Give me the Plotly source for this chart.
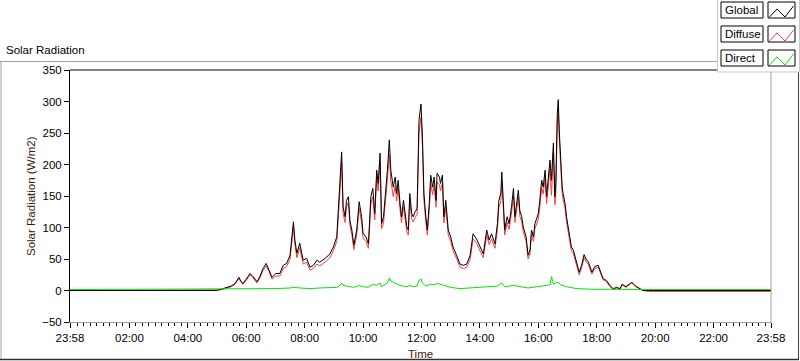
import plotly.graph_objects as go

PREV_DAY = "2021-06-20"
DAY = "2021-06-21"

# ---- data ----
global_times = [
    "23:58", "04:58", "05:08", "05:20", "05:29", "05:37", "05:45", "05:49", "05:53", "06:00",
    "06:08", "06:14", "06:22", "06:28", "06:34", "06:41", "06:47", "06:53", "07:01", "07:09",
    "07:16", "07:23", "07:30", "07:37", "07:40", "07:44", "07:50", "07:57", "08:04", "08:11",
    "08:18", "08:25", "08:31", "08:42", "08:52", "08:59", "09:06", "09:11", "09:16", "09:19",
    "09:23", "09:26", "09:30", "09:33", "09:37", "09:41", "09:47", "09:52", "09:57", "10:00",
    "10:06", "10:11", "10:16", "10:20", "10:24", "10:28", "10:31", "10:35", "10:38", "10:42",
    "10:47", "10:50", "10:54", "10:57", "11:02", "11:06", "11:09", "11:12", "11:16", "11:19",
    "11:23", "11:26", "11:30", "11:33", "11:36", "11:40", "11:43", "11:47", "11:51", "11:55",
    "11:59", "12:02", "12:05", "12:09", "12:12", "12:16", "12:19", "12:23", "12:26", "12:30",
    "12:32", "12:37", "12:39", "12:43", "12:46", "12:50", "12:55", "13:00", "13:05", "13:12",
    "13:19", "13:26", "13:33", "13:40", "13:46", "13:53", "14:00", "14:07", "14:14", "14:19",
    "14:24", "14:31", "14:36", "14:39", "14:43", "14:45", "14:48", "14:51", "14:56", "15:00",
    "15:05", "15:09", "15:12", "15:16", "15:19", "15:22", "15:26", "15:29", "15:35", "15:39",
    "15:43", "15:46", "15:50", "15:53", "15:57", "16:00", "16:03", "16:07", "16:10", "16:14",
    "16:17", "16:20", "16:24", "16:27", "16:31", "16:34", "16:36", "16:39", "16:41", "16:43",
    "16:46", "16:49", "16:51", "16:55", "16:58", "17:02", "17:05", "17:08", "17:12", "17:19",
    "17:24", "17:29", "17:34", "17:38", "17:43", "17:50", "17:56", "18:03", "18:08", "18:13",
    "18:20", "18:27", "18:34", "18:41", "18:48", "18:52", "19:00", "19:06", "19:12", "19:20",
    "19:29", "19:35", "19:47", "23:58",
]

global_wm2 = [
    0, 0, 2, 5, 7, 11, 21, 15, 11, 18,
    27, 22, 14, 22, 34, 43, 33, 21, 27, 27,
    40, 43, 56, 109, 80, 59, 75, 48, 51, 37,
    40, 48, 45, 51, 58, 69, 85, 149, 220, 133,
    117, 143, 149, 111, 96, 72, 96, 141, 117, 91,
    85, 74, 149, 162, 122, 191, 170, 218, 106, 117,
    159, 191, 239, 191, 164, 180, 154, 175, 138, 117,
    143, 127, 101, 96, 154, 122, 117, 125, 130, 271,
    296, 244, 154, 117, 96, 138, 183, 164, 180, 143,
    186, 180, 170, 183, 117, 143, 96, 85, 69, 56,
    42, 40, 42, 56, 90, 82, 69, 58, 96, 80,
    90, 74, 106, 143, 154, 188, 143, 96, 117, 106,
    133, 162, 117, 143, 159, 127, 117, 101, 85, 56,
    64, 96, 85, 106, 117, 122, 143, 175, 164, 191,
    149, 180, 207, 175, 234, 149, 170, 281, 303, 255,
    196, 164, 154, 138, 117, 96, 80, 69, 64, 42,
    29, 40, 57, 50, 45, 29, 38, 40, 30, 19,
    16, 8, 3, 5, 3, 10, 6, 9, 13, 7,
    3, 0, 0, 0,
]

diffuse_wm2 = [
    0, 0, 1, 4, 6, 10, 19, 14, 10, 16,
    25, 20, 12, 20, 31, 39, 30, 18, 23, 23,
    35, 38, 50, 101, 73, 52, 68, 42, 45, 32,
    35, 42, 39, 45, 52, 63, 78, 138, 204, 122,
    108, 133, 140, 103, 89, 65, 88, 130, 108, 83,
    78, 67, 137, 149, 112, 180, 158, 203, 98, 107,
    146, 176, 216, 174, 149, 166, 142, 163, 128, 108,
    133, 118, 93, 88, 143, 113, 109, 116, 121, 252,
    275, 229, 143, 108, 88, 127, 170, 152, 168, 132,
    172, 168, 158, 171, 107, 133, 88, 78, 63, 51,
    37, 35, 37, 50, 82, 75, 62, 52, 88, 73,
    82, 67, 97, 132, 141, 172, 133, 88, 108, 97,
    123, 150, 108, 133, 148, 118, 109, 93, 78, 50,
    58, 88, 78, 98, 108, 113, 132, 163, 153, 178,
    138, 168, 193, 151, 220, 136, 156, 265, 286, 241,
    185, 154, 145, 130, 109, 89, 74, 63, 59, 37,
    25, 36, 52, 46, 41, 26, 35, 37, 27, 17,
    14, 6, 2, 4, 2, 9, 5, 8, 12, 6,
    2, 0, -1.5, -1.5,
]

direct_times = [
    "23:58", "06:28", "06:41", "07:01", "07:30", "07:37", "07:50", "08:11", "08:31", "08:52",
    "09:06", "09:11", "09:16", "09:19", "09:30", "09:41", "09:52", "10:00", "10:11", "10:20",
    "10:28", "10:35", "10:38", "10:50", "10:54", "10:57", "11:02", "11:09", "11:16", "11:23",
    "11:30", "11:36", "11:43", "11:51", "11:55", "11:59", "12:02", "12:09", "12:19", "12:26",
    "12:32", "12:43", "12:50", "13:00", "13:19", "13:40", "13:53", "14:14", "14:36", "14:45",
    "14:51", "15:09", "15:22", "15:39", "15:57", "16:14", "16:24", "16:27", "16:31", "16:36",
    "16:41", "16:46", "16:58", "17:19", "17:50", "18:27", "19:35", "23:58",
]

direct_wm2 = [
    1.5, 2, 2.5, 3, 4, 5, 4, 3, 4, 4,
    5, 7, 12, 8, 6, 5, 8, 6, 5, 10,
    8, 12, 6, 12, 20, 15, 13, 10, 8, 7,
    6, 8, 6, 7, 16, 18, 12, 7, 10, 9,
    11, 9, 7, 5, 3, 4, 5, 5, 7, 12,
    6, 8, 6, 4, 6, 8, 9, 22, 10, 12,
    13, 9, 6, 3, 2, 2, 1.5, 1.5,
]

tick_labels = ["23:58", "02:00", "04:00", "06:00", "08:00", "10:00", "12:00",
               "14:00", "16:00", "18:00", "20:00", "22:00", "23:58"]

series_names = ["Global", "Diffuse", "Direct"]
series_colors = ["#000000", "#ff3c3c", "#00e600"]


def stamp(times):
    return [f"{PREV_DAY if i == 0 else DAY} {t}" for i, t in enumerate(times)]


tick_vals = stamp(tick_labels)

FONT = "Liberation Sans"
W, H = 800, 361
PL, PR, PT, PB = 70, 771, 70, 322


def fx(px):
    return (px - PL) / (PR - PL)


def fy(py):
    return (PB - py) / (PB - PT)


fig = go.Figure()
fig.add_trace(go.Scatter(x=stamp(global_times), y=diffuse_wm2, mode="lines",
                         name="Diffuse", line=dict(color=series_colors[1], width=1)))
fig.add_trace(go.Scatter(x=stamp(global_times), y=global_wm2, mode="lines",
                         name="Global", line=dict(color=series_colors[0], width=1)))
fig.add_trace(go.Scatter(x=stamp(direct_times), y=direct_wm2, mode="lines",
                         name="Direct", line=dict(color=series_colors[2], width=1)))

shapes = []


def line(x0, y0, x1, y1, color, width=1):
    shapes.append(dict(type="line", xref="paper", yref="paper",
                       x0=fx(x0), y0=fy(y0), x1=fx(x1), y1=fy(y1),
                       line=dict(color=color, width=width), layer="above"))


def rect(x0, y0, x1, y1, color, fill=None, width=1):
    shapes.append(dict(type="rect", xref="paper", yref="paper",
                       x0=fx(x0), y0=fy(y0), x1=fx(x1), y1=fy(y1),
                       line=dict(color=color, width=width),
                       fillcolor=fill if fill else "rgba(0,0,0,0)", layer="above"))


# outer panel frame
line(0, 61.5, 717, 61.5, "#a0a0a0")
line(1, 61.5, 1, 360, "#a0a0a0")
line(0, 359.5, 799, 359.5, "#303030", 1.5)
line(798.5, 61, 798.5, 360, "#404040")
# plot frame (top black, right gray)
line(PL, PT, PR, PT, "#000000")
line(PR, PT, PR, PB, "#a0a0a0")
# legend panel
rect(717.5, -2, 799.5, 72, "#c8c8c8", "#ffffff")

annotations = []
tops = [2, 26, 50]
for name, color, top in zip(series_names, series_colors, tops):
    rect(721, top, 763, top + 16, "#000000", "#ffffff")
    rect(768, top, 795, top + 16, "#000000", "#ffffff")
    pts = [(769.5, top + 15), (777, top + 7), (785, top + 15), (793.5, top + 4)]
    path = "M " + " L ".join(f"{fx(a)},{fy(b)}" for a, b in pts)
    shapes.append(dict(type="path", xref="paper", yref="paper", path=path,
                       line=dict(color=color, width=1), layer="above"))
    annotations.append(dict(xref="paper", yref="paper", x=fx(722.5), y=fy(top + 8),
                            xanchor="left", yanchor="middle", text=name, showarrow=False,
                            font=dict(family=FONT, size=11.5, color="#000000")))

annotations.append(dict(xref="paper", yref="paper", x=fx(4), y=fy(50),
                        xanchor="left", yanchor="middle", text="Solar Radiation",
                        showarrow=False, font=dict(family=FONT, size=11.5, color="#000000")))
annotations.append(dict(xref="paper", yref="paper", x=fx(31), y=fy(196),
                        xanchor="center", yanchor="middle", text="Solar Radiation (W/m2)",
                        textangle=-90, showarrow=False,
                        font=dict(family=FONT, size=11.5, color="#40160c")))
annotations.append(dict(xref="paper", yref="paper", x=fx(420.5), y=fy(354),
                        xanchor="center", yanchor="middle", text="Time",
                        showarrow=False, font=dict(family=FONT, size=11.5, color="#40160c")))

fig.update_layout(
    width=W, height=H,
    margin=dict(l=PL, r=W - PR, t=PT, b=H - PB, pad=0),
    paper_bgcolor="#ffffff", plot_bgcolor="#ffffff",
    showlegend=False,
    font=dict(family=FONT, size=11.5, color="#000000"),
    shapes=shapes, annotations=annotations,
    xaxis=dict(
        type="date", range=[tick_vals[0], tick_vals[-1]],
        tickvals=tick_vals, ticktext=tick_labels,
        ticks="outside", ticklen=5, tickwidth=1, tickcolor="#000000",
        showline=True, linecolor="#a0a0a0", linewidth=1,
        showgrid=False, zeroline=False,
        tickfont=dict(family=FONT, size=11.5, color="#000000"),
        minor=dict(ticks="outside", ticklen=3, tickwidth=1, tickcolor="#000000",
                   dtick=800000, tick0=f"{DAY} 00:00", showgrid=False),
    ),
    yaxis=dict(
        range=[-50, 350], dtick=50, tick0=0,
        ticks="outside", ticklen=5, tickwidth=1, tickcolor="#000000",
        showline=True, linecolor="#000000", linewidth=1,
        showgrid=False, zeroline=False,
        tickfont=dict(family=FONT, size=11.5, color="#000000"),
    ),
)

fig.write_html(
    "out.html",
    config={"displayModeBar": False, "staticPlot": True},
    post_script="document.body.style.margin='0';document.body.style.overflow='hidden';",
)
